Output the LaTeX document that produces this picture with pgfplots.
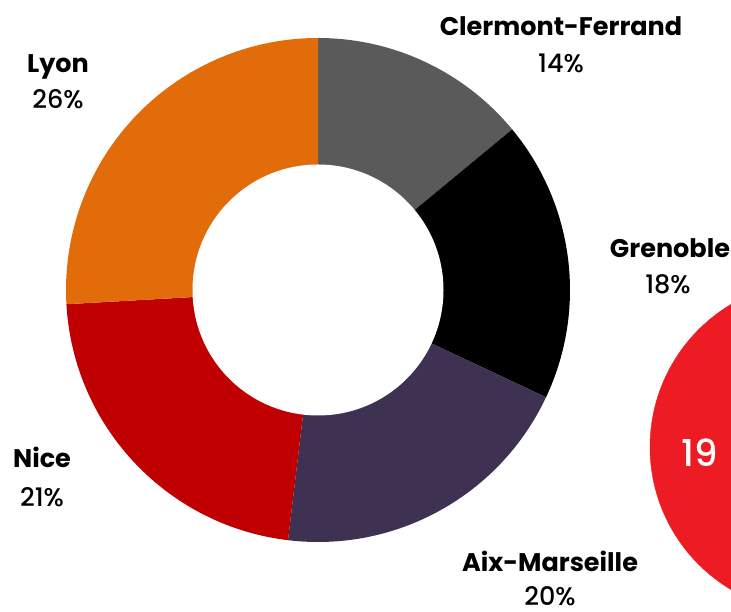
\documentclass[border=0pt]{standalone}
\usepackage{pgfplots}
\pgfplotsset{compat=1.18}
\usepackage{pgfplotstable}
\usepackage{etoolbox}
\usepackage{fontspec}
\setmainfont{Poppins}
\newfontfamily\pmed{Poppins Medium}

\definecolor{cCF}{HTML}{5A5A5A}
\definecolor{cGR}{HTML}{000000}
\definecolor{cAM}{HTML}{3F3152}
\definecolor{cNI}{HTML}{C00000}
\definecolor{cLY}{HTML}{E36C0A}
\definecolor{cRED}{HTML}{ED1C24}

% slices, clockwise from 12 o'clock
\pgfplotstableread{
name value color
Clermont 14.0 cCF
Grenoble 18.0 cGR
Aix 19.9 cAM
Nice 22.2 cNI
Lyon 25.9 cLY
}\slices

\def\cx{318}\def\cy{322}\def\R{252}\def\r{125.5}
\def\wedges{}
\def\angstart{90}
\pgfplotstablegetrowsof{\slices}
\pgfmathtruncatemacro\lastrow{\pgfplotsretval-1}
\pgfplotsforeachungrouped \i in {0,...,\lastrow}{%
  \pgfplotstablegetelem{\i}{value}\of\slices \let\v\pgfplotsretval
  \pgfplotstablegetelem{\i}{color}\of\slices \let\c\pgfplotsretval
  \pgfmathsetmacro\angend{\angstart-3.6*\v}%
  \pgfmathsetmacro\xa{\cx+\R*cos(\angstart)}%
  \pgfmathsetmacro\ya{\cy+\R*sin(\angstart)}%
  \xappto\wedges{\noexpand\fill[\c] (axis cs:\cx,\cy) -- (axis cs:\xa,\ya) arc[start angle=\angstart, end angle=\angend, radius=\R pt] -- cycle;}%
  \global\let\angstart\angend
}

\tikzset{nm/.style={anchor=base, inner sep=0pt, font=\bfseries\fontsize{25.5}{28}\selectfont},
         pc/.style={anchor=base, inner sep=0pt, font=\pmed\fontsize{25.5}{28}\selectfont}}

\begin{document}
\begin{tikzpicture}
\begin{axis}[
  scale only axis, width=1000pt, height=612pt,
  xmin=0, xmax=1000, ymin=0, ymax=612,
  axis lines=none, clip=false,
]
\wedges
\fill[white] (axis cs:\cx,\cy) circle[radius=\r pt];
\addplot[only marks, mark=*, mark size=166pt, color=cRED, mark options={draw=none, fill=cRED}] coordinates {(816,165)};

\node[nm] at (axis cs:561,576) {Clermont-Ferrand};
\node[pc] at (axis cs:561,539) {14\%};
\node[nm] at (axis cs:670,354) {Grenoble};
\node[pc] at (axis cs:668,318) {18\%};
\node[nm] at (axis cs:550,40) {Aix-Marseille};
\node[pc] at (axis cs:550,6) {20\%};
\node[nm] at (axis cs:42,144) {Nice};
\node[pc] at (axis cs:42,105) {21\%};
\node[nm] at (axis cs:58,539) {Lyon};
\node[pc] at (axis cs:58,503) {26\%};
\coordinate (c19) at (axis cs:700,145);
\end{axis}
\node[anchor=base, inner sep=0pt, text=white, font=\pmed\fontsize{37}{42}\selectfont] at (c19) {19};
\pgfresetboundingbox
\path[use as bounding box] (0,0) rectangle (731pt,612pt);
\end{tikzpicture}
\end{document}
